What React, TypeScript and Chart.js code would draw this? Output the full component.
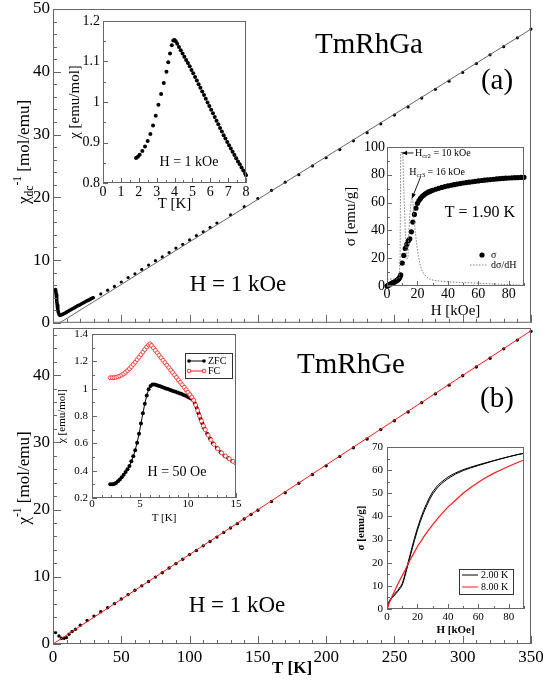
import React, { useEffect, useRef } from "react";
import { Chart, registerables } from "chart.js";

Chart.register(...registerables);

const SERIF = '"Liberation Serif", "Times New Roman", Times, serif';
const FRAME = "#666666";
const RED = "#ff1a1a";

// ================= Panel (a): TmRhGa =================
// main: inverse dc susceptibility vs T (H = 1 kOe)
const gaInvChiLowT: [number, number][] = [
  [1.9, 5.3], [2.3, 4.5], [2.7, 3.6], [3.1, 2.8], [3.5, 2.1], [4.0, 1.6], [4.5, 1.3], [5.0, 1.2],
  [5.6, 1.2], [6.5, 1.3], [8, 1.45], [10, 1.7], [12, 1.95], [14, 2.2], [16, 2.45], [18, 2.7],
  [20, 2.9], [22, 3.15], [24, 3.4], [26, 3.6], [28, 3.85], [29.5, 4.0],
];
const gaInvChiPoints: [number, number][] = [
  [35, 4.6], [40, 5.2], [45, 5.8], [50, 6.5], [55, 7.2], [60, 7.8], [65, 8.5], [70, 9.2],
  [75, 9.9], [80, 10.5], [85, 11.2], [90, 11.9], [95, 12.5], [100, 13.2], [105, 13.9], [110, 14.5],
  [115, 15.2], [120, 15.9], [130, 17.2], [140, 18.5], [150, 19.8], [160, 21.1], [170, 22.4],
  [180, 23.6], [190, 25.0], [200, 26.3], [210, 27.6], [220, 29.0], [230, 30.3], [240, 31.7],
  [250, 33.1], [260, 34.4], [270, 35.8], [280, 37.2], [290, 38.5], [300, 39.9], [310, 41.3],
  [320, 42.7], [330, 44.0], [340, 45.4], [350, 46.8],
];
const gaFit: [number, number][] = [[5, 0], [350, 46.8]];

// inset: chi vs T
const gaChiInset: [number, number][] = [
  [1.85, 0.862], [1.95, 0.865], [2.05, 0.87], [2.2, 0.879], [2.35, 0.89], [2.5, 0.904], [2.65, 0.921],
  [2.8, 0.942], [2.95, 0.966], [3.1, 0.993], [3.25, 1.02], [3.4, 1.047], [3.55, 1.075], [3.65, 1.098],
  [3.75, 1.12], [3.85, 1.14], [3.93, 1.152], [4.0, 1.153], [4.07, 1.15], [4.15, 1.144], [4.25, 1.136],
  [4.35, 1.128], [4.45, 1.12], [4.55, 1.112], [4.65, 1.104], [4.75, 1.096], [4.85, 1.088], [4.95, 1.079],
  [5.05, 1.071], [5.15, 1.062], [5.25, 1.053], [5.35, 1.044], [5.45, 1.035], [5.55, 1.026], [5.65, 1.017],
  [5.75, 1.008], [5.85, 0.999], [5.95, 0.99], [6.05, 0.981], [6.15, 0.972], [6.25, 0.963], [6.35, 0.954],
  [6.45, 0.945], [6.55, 0.936], [6.65, 0.927], [6.75, 0.918], [6.85, 0.91], [6.95, 0.901], [7.05, 0.893],
  [7.15, 0.885], [7.25, 0.877], [7.35, 0.869], [7.45, 0.861], [7.55, 0.853], [7.65, 0.846], [7.75, 0.838],
  [7.85, 0.831], [7.95, 0.823], [8.0, 0.819],
];

// inset: magnetisation sigma vs H at 1.90 K and its derivative
const gaSigma: [number, number][] = [
  [0, 0], [0.5, 0.3], [1, 0.6], [1.5, 0.9], [2, 1.2], [2.5, 1.5], [3, 1.8], [3.5, 2.1], [4, 2.4],
  [4.5, 2.7], [5, 3.0], [5.5, 3.3], [6, 3.6], [6.5, 4.0], [7, 4.4], [7.5, 4.9], [8, 5.5], [8.5, 6.5],
  [9, 8], [10, 16.5], [11, 22], [12, 27], [13, 30], [14, 32.5], [15, 34], [16, 39], [17, 46],
  [18, 51.5], [19, 56], [20, 59.5], [21, 61.5], [22, 63], [23, 64.3], [24, 65.3], [25, 66.2],
  [26, 66.9], [27, 67.5], [28, 68], [29, 68.5], [30, 68.9], [32, 69.6], [34, 70.3], [36, 70.9],
  [38, 71.5], [40, 72], [42, 72.5], [44, 72.9], [46, 73.3], [48, 73.7], [50, 74.1], [52, 74.4],
  [54, 74.7], [56, 75], [58, 75.3], [60, 75.6], [62, 75.9], [64, 76.1], [66, 76.4], [68, 76.6],
  [70, 76.8], [72, 77], [74, 77.2], [76, 77.4], [78, 77.6], [80, 77.7], [82, 77.8], [84, 77.9],
  [86, 78], [88, 78.1], [90, 78.2],
];
const gaDSigmaDH: [number, number][] = [
  [0, 5], [3, 5], [6, 5], [8, 5.5], [8.6, 20], [9, 96], [10.4, 96], [11, 70], [12, 40], [12.8, 20],
  [13.8, 20], [14.2, 35], [15, 52], [16, 62], [17, 62], [17.6, 50], [18.5, 40], [19.5, 30],
  [20.5, 22], [22, 14], [24, 9], [26, 6.5], [28, 5], [31, 4], [35, 3.5], [40, 3], [50, 2.5],
  [60, 2], [70, 1.5], [80, 1], [90, 0.5],
];

// ================= Panel (b): TmRhGe =================
const geInvChiPoints: [number, number][] = [
  [1.9, 1.7], [4.4, 1.2], [6.3, 0.85], [8.2, 0.85], [9.9, 0.95], [11.7, 1.45], [14, 1.85], [16.5, 2.2],
  [20, 2.8], [25, 3.5], [30, 4.15], [35, 4.8], [40, 5.4], [45, 6.0], [50, 6.7], [55, 7.35], [60, 8.0],
  [65, 8.65], [70, 9.3], [75, 9.95], [80, 10.6], [85, 11.3], [90, 11.95], [95, 12.6], [100, 13.3],
  [105, 13.9], [110, 14.6], [115, 15.25], [120, 15.9], [125, 16.6], [130, 17.25], [135, 17.9],
  [140, 18.6], [145, 19.25], [150, 19.9], [160, 21.2], [170, 22.5], [180, 23.9], [190, 25.2],
  [200, 26.5], [210, 27.9], [220, 29.2], [230, 30.5], [240, 31.9], [250, 33.2], [260, 34.5],
  [270, 35.9], [280, 37.2], [290, 38.5], [300, 39.9], [310, 41.2], [320, 42.5], [330, 43.9],
  [340, 45.2], [350, 46.5],
];
const geFit: [number, number][] = [[0, 0], [350, 46.6]];

// inset: ZFC / FC chi vs T, H = 50 Oe
const geZFC: [number, number][] = [
  [1.9, 0.3], [2.1, 0.3], [2.3, 0.302], [2.5, 0.31], [2.7, 0.322], [2.9, 0.336], [3.1, 0.352],
  [3.3, 0.37], [3.5, 0.39], [3.7, 0.41], [3.9, 0.435], [4.1, 0.468], [4.3, 0.505], [4.5, 0.55],
  [4.7, 0.605], [4.9, 0.67], [5.1, 0.745], [5.3, 0.82], [5.5, 0.89], [5.7, 0.95], [5.9, 0.995],
  [6.1, 1.02], [6.3, 1.03], [6.5, 1.03], [6.7, 1.026], [6.9, 1.022], [7.1, 1.017], [7.3, 1.012],
  [7.5, 1.007], [7.7, 1.002], [7.9, 0.997], [8.1, 0.992], [8.3, 0.987], [8.5, 0.982], [8.7, 0.977],
  [8.9, 0.972], [9.1, 0.967], [9.3, 0.962], [9.5, 0.956], [9.7, 0.95], [9.9, 0.943], [10.1, 0.936],
  [10.3, 0.928], [10.5, 0.918], [10.7, 0.895], [10.9, 0.86], [11.1, 0.82], [11.3, 0.78],
  [11.5, 0.745], [11.7, 0.71], [12.0, 0.67], [12.3, 0.635], [12.6, 0.6], [13.0, 0.565],
  [13.4, 0.535], [13.8, 0.51], [14.2, 0.49], [14.6, 0.47], [15.0, 0.455],
];
const geFC: [number, number][] = [
  [1.9, 1.08], [2.1, 1.08], [2.3, 1.081], [2.5, 1.083], [2.7, 1.087], [2.9, 1.093], [3.1, 1.1],
  [3.3, 1.109], [3.5, 1.12], [3.7, 1.132], [3.9, 1.146], [4.1, 1.161], [4.3, 1.177], [4.5, 1.194],
  [4.7, 1.212], [4.9, 1.23], [5.1, 1.249], [5.3, 1.268], [5.5, 1.287], [5.7, 1.305], [5.9, 1.32],
  [6.05, 1.328], [6.2, 1.316], [6.4, 1.298], [6.6, 1.28], [6.8, 1.262], [7.0, 1.244], [7.2, 1.226],
  [7.4, 1.208], [7.6, 1.19], [7.8, 1.172], [8.0, 1.154], [8.2, 1.136], [8.4, 1.118], [8.6, 1.1],
  [8.8, 1.082], [9.0, 1.064], [9.2, 1.046], [9.4, 1.028], [9.6, 1.01], [9.8, 0.992], [10.0, 0.974],
  [10.2, 0.956], [10.4, 0.938], [10.6, 0.915], [10.8, 0.88], [11.0, 0.84], [11.2, 0.8],
  [11.4, 0.763], [11.6, 0.728], [11.8, 0.7], [12.1, 0.66], [12.4, 0.625], [12.7, 0.592],
  [13.1, 0.56], [13.5, 0.53], [13.9, 0.507], [14.3, 0.487], [14.7, 0.468], [15.0, 0.455],
];

// inset: sigma vs H at 2.00 K (two branches) and 8.00 K
const geSigma2Ka: [number, number][] = [
  [0, 0], [0.5, 1.8], [1, 2.8], [2, 4], [3, 5], [5, 6.5], [7, 8], [9, 9.8], [10, 11], [11, 13],
  [12, 15.5], [13, 18], [14, 20.5], [16, 25.5], [18, 30.5], [20, 35], [22, 39], [24, 42.5],
  [26, 45.5], [28, 48.3], [30, 50.6], [33, 53.2], [36, 55], [40, 57], [45, 58.8], [50, 60.2],
  [55, 61.3], [60, 62.3], [65, 63.2], [70, 64.1], [75, 65], [80, 65.8], [85, 66.6], [90, 67.3],
];
const geSigma2Kb: [number, number][] = [
  [0, 0], [1, 2.3], [2, 3.6], [3, 4.6], [5, 6], [7, 7.5], [9, 9.2], [10, 10.4], [11, 12.3],
  [12, 14.7], [13, 17.2], [14, 19.7], [16, 24.6], [18, 29.5], [20, 34], [22, 38], [24, 41.5],
  [26, 44.5], [28, 47.3], [30, 49.7], [33, 52.3], [36, 54.3], [40, 56.3], [45, 58.3], [50, 59.8],
  [55, 61], [60, 62], [65, 63], [70, 64], [75, 64.9], [80, 65.8], [85, 66.6], [90, 67.3],
];
const geSigma8K: [number, number][] = [
  [0, 0], [1, 1.8], [2, 3.5], [3, 5], [5, 7.8], [7, 10.6], [10, 14.5], [12, 17], [15, 21],
  [20, 27], [25, 32], [30, 36.5], [35, 40.5], [40, 44], [45, 47], [50, 50], [55, 52.5],
  [60, 54.8], [65, 56.8], [70, 58.6], [75, 60.2], [80, 61.7], [85, 63.1], [90, 64.4],
];

// ================= tick labels =================
const mainTTicks = [0, 50, 100, 150, 200, 250, 300, 350];
const gaInvTicks = [0, 10, 20, 30, 40, 50];
const geInvTicks = [0, 10, 20, 30, 40];
const gaInsetTTicks = [0, 1, 2, 3, 4, 5, 6, 7, 8];
const gaInsetChiTicks = [0.8, 0.9, 1, 1.1, 1.2];
const fieldTicks = [0, 20, 40, 60, 80];
const gaSigmaTicks = [0, 20, 40, 60, 80, 100];
const geInsetTTicks = [0, 5, 10, 15];
const geInsetChiTicks = [0.2, 0.4, 0.6, 0.8, 1, 1.2, 1.4];
const geSigmaTicks = [0, 10, 20, 30, 40, 50, 60, 70];

// ================= helpers =================
const toXY = (a: [number, number][]) => a.map(([x, y]) => ({ x, y }));
const fmt = (v: number) => String(Math.round(v * 1000) / 1000);

type Box = { left: number; top: number; width: number; height: number };
type Area = { l: number; t: number; r: number; b: number };
type Part = { t: string; k?: "sub" | "sup" };
type TextItem = {
  x: number; y: number; parts: Part[]; size: number; align?: "left" | "center" | "right";
  rot?: number; bold?: boolean; color?: string; data?: boolean;
};
type TickSpec = { major: number; minor: number; majLen: number; minLen: number };

function drawText(ctx: any, it: TextItem, px: number, py: number) {
  const fontOf = (s: number) => `${it.bold ? "bold " : ""}${s}px ${SERIF}`;
  const sizes = it.parts.map((p) => (p.k ? it.size * 0.68 : it.size));
  let total = 0;
  const widths = it.parts.map((p, i) => {
    ctx.font = fontOf(sizes[i]);
    const w = ctx.measureText(p.t).width;
    total += w;
    return w;
  });
  ctx.save();
  ctx.translate(px, py);
  if (it.rot) ctx.rotate(it.rot);
  ctx.fillStyle = it.color || "#000";
  ctx.textBaseline = "middle";
  ctx.textAlign = "left";
  let x = it.align === "left" ? 0 : it.align === "right" ? -total : -total / 2;
  it.parts.forEach((p, i) => {
    ctx.font = fontOf(sizes[i]);
    const dy = p.k === "sub" ? it.size * 0.28 : p.k === "sup" ? -it.size * 0.42 : 0;
    ctx.fillText(p.t, x, dy);
    x += widths[i];
  });
  ctx.restore();
}

function makeDeco(box: Box, o: any) {
  return {
    id: "deco",
    beforeDraw(chart: any) {
      if (!o.fill) return;
      const { ctx, chartArea: a } = chart;
      ctx.save();
      ctx.fillStyle = "#ffffff";
      ctx.fillRect(a.left, a.top, a.right - a.left, a.bottom - a.top);
      ctx.restore();
    },
    afterDraw(chart: any) {
      const { ctx, chartArea: a, scales } = chart;
      ctx.save();
      ctx.strokeStyle = o.frame || FRAME;
      ctx.lineWidth = 1;
      ctx.strokeRect(a.left + 0.5, a.top + 0.5, a.right - a.left - 1, a.bottom - a.top - 1);
      const tick = (scale: any, spec: TickSpec, horiz: boolean) => {
        const s0 = Math.ceil(scale.min / spec.minor - 1e-6);
        const s1 = Math.floor(scale.max / spec.minor + 1e-6);
        for (let i = s0; i <= s1; i++) {
          const v = i * spec.minor;
          const r = v / spec.major;
          const len = Math.abs(r - Math.round(r)) < 1e-6 ? spec.majLen : spec.minLen;
          const p = Math.round(scale.getPixelForValue(v)) + 0.5;
          ctx.beginPath();
          if (horiz) {
            ctx.moveTo(p, a.bottom);
            ctx.lineTo(p, a.bottom - len);
          } else {
            ctx.moveTo(a.left, p);
            ctx.lineTo(a.left + len, p);
          }
          ctx.stroke();
        }
      };
      tick(scales.x, o.xt, true);
      tick(scales.y, o.yt, false);
      // marks (legend decorations) in page coords
      (o.marks || []).forEach((m: any) => {
        ctx.save();
        if (m.type === "line") {
          ctx.strokeStyle = m.color || "#000";
          ctx.lineWidth = m.width || 1;
          ctx.setLineDash(m.dash || []);
          ctx.beginPath();
          ctx.moveTo(m.x1 - box.left, m.y1 - box.top);
          ctx.lineTo(m.x2 - box.left, m.y2 - box.top);
          ctx.stroke();
        } else if (m.type === "circle") {
          ctx.beginPath();
          ctx.arc(m.x - box.left, m.y - box.top, m.r, 0, Math.PI * 2);
          if (m.fill) { ctx.fillStyle = m.fill; ctx.fill(); }
          if (m.stroke) { ctx.strokeStyle = m.stroke; ctx.lineWidth = 0.9; ctx.stroke(); }
        } else if (m.type === "rect") {
          ctx.strokeStyle = m.stroke || "#333";
          ctx.lineWidth = 1;
          ctx.strokeRect(m.x - box.left + 0.5, m.y - box.top + 0.5, m.w, m.h);
        }
        ctx.restore();
      });
      // arrows in data coords
      (o.arrows || []).forEach((ar: any) => {
        const x1 = scales.x.getPixelForValue(ar.x1), y1 = scales.y.getPixelForValue(ar.y1);
        const x2 = scales.x.getPixelForValue(ar.x2), y2 = scales.y.getPixelForValue(ar.y2);
        const ang = Math.atan2(y2 - y1, x2 - x1);
        ctx.strokeStyle = "#000";
        ctx.fillStyle = "#000";
        ctx.lineWidth = 0.9;
        ctx.beginPath();
        ctx.moveTo(x1, y1);
        ctx.lineTo(x2, y2);
        ctx.stroke();
        ctx.beginPath();
        ctx.moveTo(x2, y2);
        ctx.lineTo(x2 - 5 * Math.cos(ang) + 2.2 * Math.sin(ang), y2 - 5 * Math.sin(ang) - 2.2 * Math.cos(ang));
        ctx.lineTo(x2 - 5 * Math.cos(ang) - 2.2 * Math.sin(ang), y2 - 5 * Math.sin(ang) + 2.2 * Math.cos(ang));
        ctx.closePath();
        ctx.fill();
      });
      (o.texts || []).forEach((t: TextItem) => {
        const px = t.data ? scales.x.getPixelForValue(t.x) : t.x - box.left;
        const py = t.data ? scales.y.getPixelForValue(t.y) : t.y - box.top;
        drawText(ctx, t, px, py);
      });
      ctx.restore();
    },
  };
}

interface AxisOpt {
  min: number; max: number; ticks: number[]; fontSize: number; showLabels?: boolean;
  title?: string; titleSize?: number; titleBold?: boolean; pad?: number; titlePad?: number;
}

function scaleCfg(a: AxisOpt, isX: boolean, fit: (s: any) => void) {
  return {
    type: "linear",
    position: isX ? "bottom" : "left",
    min: a.min,
    max: a.max,
    afterFit: fit,
    afterBuildTicks: (s: any) => {
      s.ticks = a.ticks.map((v) => ({ value: v }));
    },
    grid: { display: false, drawTicks: false },
    border: { display: false },
    ticks: {
      display: a.showLabels !== false,
      padding: a.pad ?? 3,
      color: "#000",
      font: { family: SERIF, size: a.fontSize },
      maxRotation: 0,
      minRotation: 0,
      autoSkip: false,
      callback: (v: number) => fmt(v),
    },
    title: {
      display: !!a.title,
      text: a.title || "",
      color: "#000",
      font: { family: SERIF, size: a.titleSize ?? a.fontSize, weight: a.titleBold ? "bold" : "normal" },
      padding: isX ? { top: 0, bottom: a.titlePad ?? 2 } : { top: a.titlePad ?? 1, bottom: 0 },
    },
  };
}

function buildConfig(box: Box, area: Area, xa: AxisOpt, ya: AxisOpt, datasets: any[], deco: any) {
  return {
    type: "scatter",
    data: { datasets },
    options: {
      responsive: false,
      maintainAspectRatio: false,
      animation: false,
      events: [],
      layout: {
        padding: { left: 0, top: area.t - box.top, right: box.left + box.width - area.r, bottom: 0 },
      },
      plugins: { legend: { display: false }, tooltip: { enabled: false } },
      scales: {
        x: scaleCfg(xa, true, (s: any) => { s.height = box.top + box.height - area.b; }),
        y: scaleCfg(ya, false, (s: any) => { s.width = area.l - box.left; }),
      },
    },
    plugins: [makeDeco(box, deco)],
  };
}

const line = (d: [number, number][], color: string, width: number, extra: any = {}) => ({
  data: toXY(d), showLine: true, borderColor: color, borderWidth: width, pointRadius: 0, ...extra,
});
const dots = (d: [number, number][], r: number, color: string, extra: any = {}) => ({
  data: toXY(d), showLine: false, pointRadius: r, pointBackgroundColor: color, pointBorderWidth: 0,
  pointBorderColor: color, ...extra,
});

const mainTick = { major: 10, minor: 2, majLen: 8, minLen: 4 };
const mainXTick = { major: 50, minor: 10, majLen: 8, minLen: 4 };

// ================= chart builders =================
const boxMainTop: Box = { left: 0, top: -15, width: 560, height: 351 };
const buildMainTop = () =>
  buildConfig(
    boxMainTop,
    { l: 53, t: 9, r: 531, b: 325 },
    { min: 0, max: 350, ticks: mainTTicks, fontSize: 17, showLabels: false },
    { min: 0, max: 50, ticks: gaInvTicks, fontSize: 17, pad: 3 },
    [
      line(gaFit, "#555", 0.9),
      line(gaInvChiLowT, "#000", 3.5, { borderCapStyle: "round", borderJoinStyle: "round" }),
      dots(gaInvChiPoints, 1.6, "#000", { clip: 4 }),
    ],
    {
      xt: mainXTick, yt: mainTick,
      texts: [
        { x: 369, y: 45, parts: [{ t: "TmRhGa" }], size: 29 },
        { x: 497, y: 81, parts: [{ t: "(a)" }], size: 29 },
        { x: 238, y: 285, parts: [{ t: "H = 1 kOe" }], size: 23 },
        { x: 25, y: 152, rot: -Math.PI / 2, size: 17, parts: [{ t: "χ" }, { t: "dc", k: "sub" }, { t: "-1", k: "sup" }, { t: " [mol/emu]" }] },
      ],
    }
  );

const boxMainBot: Box = { left: 0, top: 313, width: 560, height: 368 };
const buildMainBot = () =>
  buildConfig(
    boxMainBot,
    { l: 53, t: 328, r: 531, b: 644 },
    { min: 0, max: 350, ticks: mainTTicks, fontSize: 17, pad: 3, title: "T [K]", titleBold: true, titleSize: 17, titlePad: 2 },
    { min: 0, max: 47, ticks: geInvTicks, fontSize: 17, pad: 3 },
    [line(geFit, RED, 1), dots(geInvChiPoints, 1.7, "#000", { clip: 4 })],
    {
      xt: mainXTick, yt: mainTick,
      texts: [
        { x: 351, y: 365, parts: [{ t: "TmRhGe" }], size: 29 },
        { x: 497, y: 399, parts: [{ t: "(b)" }], size: 29 },
        { x: 237, y: 606, parts: [{ t: "H = 1 kOe" }], size: 23 },
        { x: 25, y: 478, rot: -Math.PI / 2, size: 17, parts: [{ t: "χ" }, { t: "-1", k: "sup" }, { t: " [mol/emu]" }] },
      ],
    }
  );

const boxInsetA: Box = { left: 65, top: 0, width: 190, height: 215 };
const buildInsetA = () =>
  buildConfig(
    boxInsetA,
    { l: 103, t: 21, r: 246, b: 183 },
    { min: 0, max: 8, ticks: gaInsetTTicks, fontSize: 14, pad: 1, title: "T [K]", titleSize: 15 },
    { min: 0.8, max: 1.2, ticks: gaInsetChiTicks, fontSize: 14, pad: 3, title: "χ [emu/mol]", titleSize: 15 },
    [dots(gaChiInset, 2, "#000", { clip: 3 })],
    {
      fill: true,
      xt: { major: 1, minor: 0.5, majLen: 5, minLen: 3 },
      yt: { major: 0.1, minor: 0.05, majLen: 5, minLen: 3 },
      texts: [{ x: 189, y: 162, parts: [{ t: "H = 1 kOe" }], size: 14 }],
    }
  );

const boxInsetB: Box = { left: 341, top: 128, width: 202, height: 194 };
const buildInsetB = () =>
  buildConfig(
    boxInsetB,
    { l: 387, t: 147, r: 524, b: 286 },
    { min: 0, max: 90, ticks: fieldTicks, fontSize: 14, pad: 0, title: "H [kOe]", titleSize: 15 },
    { min: 0, max: 100, ticks: gaSigmaTicks, fontSize: 14, pad: 2, title: "σ [emu/g]", titleSize: 15 },
    [
      line(gaDSigmaDH, "#808080", 1, { borderDash: [1.5, 1.5] }),
      dots(gaSigma, 2.6, "#000", { clip: 3 }),
    ],
    {
      fill: true,
      xt: { major: 20, minor: 10, majLen: 5, minLen: 3 },
      yt: { major: 20, minor: 10, majLen: 5, minLen: 3 },
      arrows: [
        { x1: 17.4, y1: 95.7, x2: 9.9, y2: 95.7 },
        { x1: 22.1, y1: 78.6, x2: 16.4, y2: 63 },
      ],
      texts: [
        { x: 480, y: 213, parts: [{ t: "T = 1.90 K" }], size: 16 },
        { x: 18.4, y: 95.7, data: true, align: "left", size: 10, parts: [{ t: "H" }, { t: "cr2", k: "sub" }, { t: " = 10 kOe" }] },
        { x: 14.6, y: 82, data: true, align: "left", size: 10, parts: [{ t: "H" }, { t: "cr3", k: "sub" }, { t: " = 16 kOe" }] },
        { x: 491, y: 255, align: "left", size: 10, parts: [{ t: "σ" }] },
        { x: 491, y: 265, align: "left", size: 10, parts: [{ t: "dσ/dH" }] },
      ],
      marks: [
        { type: "circle", x: 482, y: 255, r: 2.6, fill: "#000" },
        { type: "line", x1: 470, y1: 265, x2: 488, y2: 265, color: "#808080", dash: [1.5, 1.5] },
      ],
    }
  );

const boxInsetC: Box = { left: 55, top: 315, width: 195, height: 212 };
const buildInsetC = () =>
  buildConfig(
    boxInsetC,
    { l: 92, t: 334, r: 236, b: 498 },
    { min: 0, max: 15, ticks: geInsetTTicks, fontSize: 11, pad: 0, title: "T [K]", titleSize: 11 },
    { min: 0.2, max: 1.4, ticks: geInsetChiTicks, fontSize: 11, pad: 4, title: "χ [emu/mol]", titleSize: 11 },
    [
      line(geFC, RED, 1, { pointRadius: 2, pointBackgroundColor: "#fff", pointBorderColor: RED, pointBorderWidth: 0.8 }),
      line(geZFC, "#000", 1, { pointRadius: 2, pointBackgroundColor: "#000", pointBorderWidth: 0 }),
    ],
    {
      fill: true,
      xt: { major: 5, minor: 1, majLen: 5, minLen: 3 },
      yt: { major: 0.2, minor: 0.1, majLen: 5, minLen: 3 },
      texts: [
        { x: 177, y: 472, parts: [{ t: "H = 50 Oe" }], size: 14 },
        { x: 208, y: 361, align: "left", size: 10, parts: [{ t: "ZFC" }] },
        { x: 208, y: 371, align: "left", size: 10, parts: [{ t: "FC" }] },
      ],
      marks: [
        { type: "rect", x: 185, y: 353, w: 47, h: 25, stroke: "#333" },
        { type: "line", x1: 189, y1: 361, x2: 204, y2: 361, color: "#000" },
        { type: "circle", x: 189, y: 361, r: 1.8, fill: "#000" },
        { type: "circle", x: 204, y: 361, r: 1.8, fill: "#000" },
        { type: "line", x1: 189, y1: 371, x2: 204, y2: 371, color: RED },
        { type: "circle", x: 189, y: 371, r: 1.8, fill: "#fff", stroke: RED },
        { type: "circle", x: 204, y: 371, r: 1.8, fill: "#fff", stroke: RED },
      ],
    }
  );

const boxInsetD: Box = { left: 354, top: 430, width: 189, height: 209 };
const buildInsetD = () =>
  buildConfig(
    boxInsetD,
    { l: 387, t: 447, r: 524, b: 609 },
    { min: 0, max: 90, ticks: fieldTicks, fontSize: 11, pad: 2, title: "H [kOe]", titleSize: 11, titleBold: true },
    { min: 0, max: 70, ticks: geSigmaTicks, fontSize: 11, pad: 4, title: "σ [emu/g]", titleSize: 11, titleBold: true },
    [line(geSigma8K, RED, 1.2), line(geSigma2Ka, "#000", 1), line(geSigma2Kb, "#000", 1)],
    {
      fill: true,
      xt: { major: 20, minor: 10, majLen: 5, minLen: 3 },
      yt: { major: 10, minor: 5, majLen: 5, minLen: 3 },
      texts: [
        { x: 481, y: 575, align: "left", size: 10, parts: [{ t: "2.00 K" }] },
        { x: 481, y: 587, align: "left", size: 10, parts: [{ t: "8.00 K" }] },
      ],
      marks: [
        { type: "rect", x: 459, y: 569, w: 54, h: 25, stroke: "#333" },
        { type: "line", x1: 462, y1: 575, x2: 478, y2: 575, color: "#000" },
        { type: "line", x1: 462, y1: 587, x2: 478, y2: 587, color: RED },
      ],
    }
  );

function ChartCanvas({ box, build }: { box: Box; build: () => any }) {
  const ref = useRef<HTMLCanvasElement | null>(null);
  useEffect(() => {
    if (!ref.current) return;
    const chart = new Chart(ref.current, build() as any);
    return () => chart.destroy();
  }, []);
  return (
    <canvas
      ref={ref}
      width={box.width}
      height={box.height}
      style={{ position: "absolute", left: box.left, top: box.top, width: box.width, height: box.height }}
    />
  );
}

export default function App() {
  return (
    <div
      style={{
        position: "absolute", left: 0, top: 0, width: 543, height: 681,
        overflow: "hidden", background: "#ffffff",
      }}
    >
      <ChartCanvas box={boxMainTop} build={buildMainTop} />
      <ChartCanvas box={boxMainBot} build={buildMainBot} />
      <ChartCanvas box={boxInsetA} build={buildInsetA} />
      <ChartCanvas box={boxInsetB} build={buildInsetB} />
      <ChartCanvas box={boxInsetC} build={buildInsetC} />
      <ChartCanvas box={boxInsetD} build={buildInsetD} />
    </div>
  );
}
